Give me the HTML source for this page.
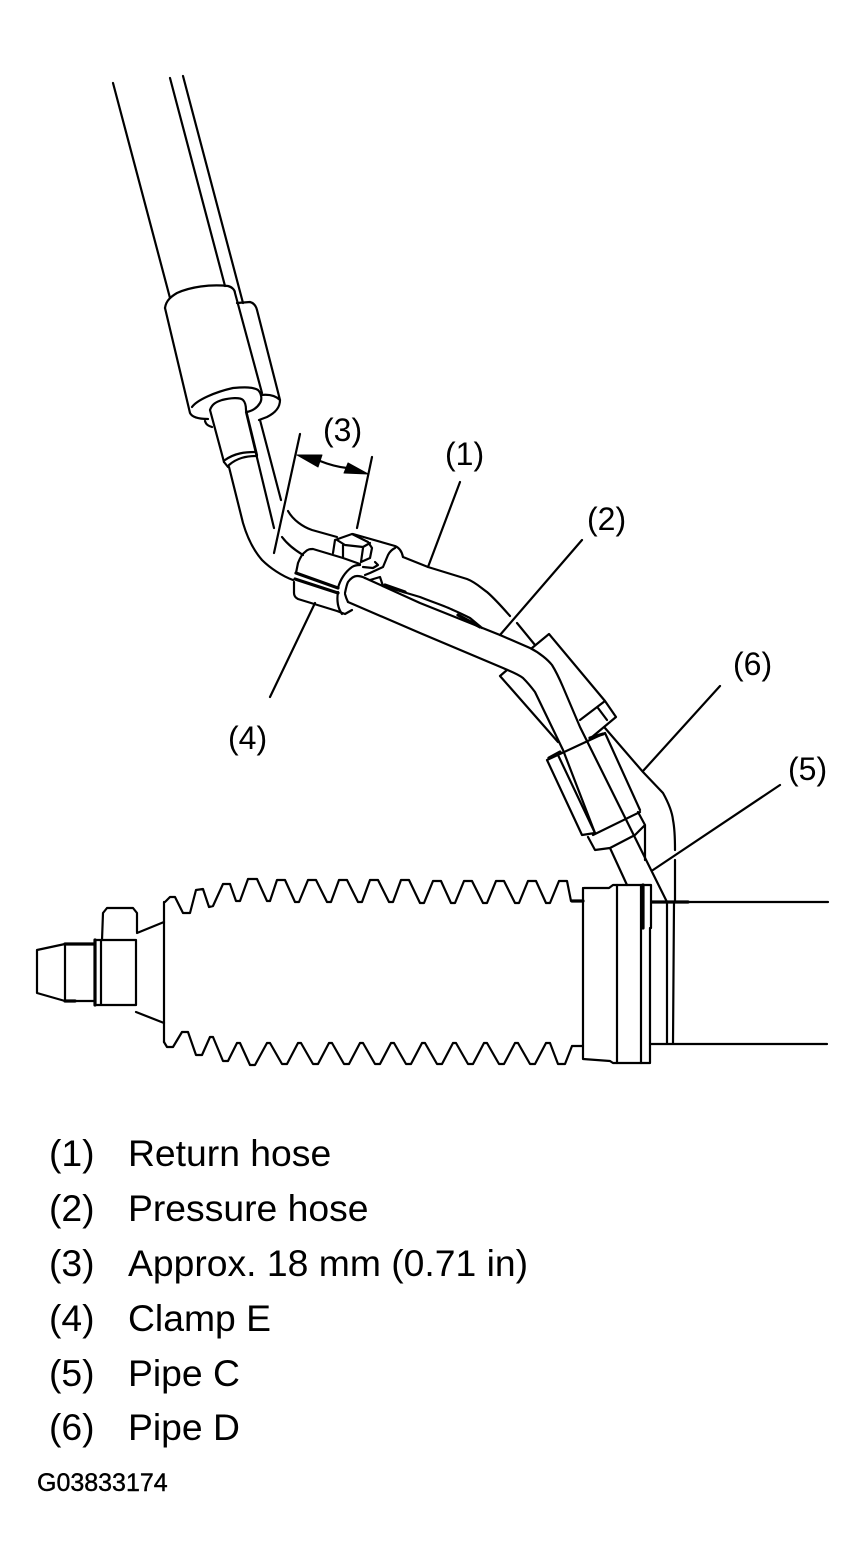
<!DOCTYPE html>
<html><head><meta charset="utf-8"><style>
html,body{margin:0;padding:0;background:#fff}
svg{display:block}
text{font-family:"Liberation Sans",sans-serif;fill:#000}
.l{font-size:37.3px}.c{font-size:32px}
path,line,polyline{fill:none;stroke:#000;stroke-width:2.2;stroke-linejoin:round;stroke-linecap:round}
polygon{stroke:#000;stroke-width:1;stroke-linejoin:round}
.t{stroke-width:3.2}
</style></head><body>
<svg width="866" height="1567" viewBox="0 0 866 1567" xmlns="http://www.w3.org/2000/svg">
<!-- top hoses -->
<path d="M113 83L170 298M170 78L225 286M183 76L243 303"/>
<path d="M165 308C166 300 172 296 177 293C190 287 210 284 228 286C232 287 235 290 235 293L262 393"/>
<path d="M165 308L190 413C192 417 198 419 208 419M192 407C197 400 215 392 233 388C245 387 253 387 258 390C262 394 262 400 260 403C257 408 252 411 247 412"/>
<path d="M237 303L250 302C254 303 256 306 257 310L280 400C280 408 275 413 267 417L259 420M261 395C270 394 276 396 280 400"/>
<path d="M205 421C206 425 209 426 212 427M210 410C212 404 216 402 222 400C230 398 240 397 243 400C245 402 246 406 246 410L257 455M210 410L224 462"/>
<path d="M225 460C235 453 245 452 256 452M229 465C237 458 246 456 257 456M224 462L228 467"/>
<path d="M229 467L243 523C248 540 255 552 262 560C270 568 282 576 293 580"/>
<path d="M246 412L274 528M260 420L281 500"/>
<!-- dimension 3 -->
<path d="M300 434L274 553M372 457L357 528"/>
<path d="M320 461C330 465 338 467 347 468"/>
<polygon points="297,455 322,455 318,467"/>
<polygon points="368,474 348,463 344,473"/>
<path d="M288 511C293 520 303 527 312 530L337 537M282 537C288 545 295 550 303 555"/>
<!-- bolt -->
<path d="M335 540L352 534L368 542L372 548L370 558L361 562M335 540L333 553M343 545L343 557M363 548L361 562M337 540L345 545L363 547L370 543"/>
<path d="M353 534L395 546C400 548 402 552 403 557M395 548C391 550 389 553 388 555L383 567L370 573L365 575"/>
<path d="M375 562L378 565L373 568L363 567"/>
<path d="M370 580L380 577L383 586"/>
<!-- clamp -->
<path d="M296 573L298 563C300 558 302 554 305 552C308 549 310 549 313 549L343 558L360 564"/>
<path class="t" d="M296 573L338 588M295 579L338 593"/>
<path d="M294 582L294 593C294 596 296 598 298 599L337 611L345 614L352 610"/>
<path d="M338 592C337 598 337 607 342 614M338 588C340 580 345 572 352 567C355 565 358 565 360 565"/>
<path d="M345 593C346 588 347 584 348 582C351 578 354 576 357 576C360 576 363 577 365 578"/>
<path d="M345 594C346 598 347 600 348 602"/>
<!-- hoses -->
<path d="M365 578L420 603L500 635L530 648C540 653 548 660 552 665C557 673 560 680 563 687L580 727L667 902"/>
<path d="M348 602L420 633L503 668C512 672 518 674 523 678C528 683 532 688 535 692L563 750L595 833M610 848L627 885"/>
<path d="M403 557L428 567L467 579C475 582 480 587 487 592C495 599 503 608 510 616M517 623L535 645"/>
<path d="M383 586L420 597C435 603 445 606 453 610C460 613 466 616 470 618L482 628"/>
<path class="t" d="M385 585L405 592M458 615L480 627"/>
<!-- sleeves -->
<path d="M532 648L549 634L605 701L580 720M605 701L616 717L592 737M598 708L607 720"/>
<path d="M507 670L500 676L558 742"/>
<path d="M547 760L605 733L640 810M547 760L582 835L595 833M558 755L595 833M593 835L640 812M588 837L595 850L610 848L635 835L645 825L638 812M645 825L645 860"/>
<path class="t" d="M549 758L560 752M590 738L603 734"/>
<path d="M605 728L643 772L663 793C668 802 672 811 673 820C675 830 675 840 675 850M675 860L675 902"/>
<!-- leaders -->
<path d="M460 482L428 567M582 540L500 635M720 686L643 771M780 785L653 870M315 603L270 697"/>
<!-- boot -->
<path d="M37 950L65 944L65 1001L37 993Z"/>
<path class="t" d="M65 944L95 944M65 1001L75 1001M95 940L95 1005"/>
<path d="M75 1001L95 1001M95 940L136 940M95 1005L136 1005M136 940L136 1005M101 940L101 1005"/>
<path d="M102 940L103 913L107 908L133 908L137 913L137 932M137 933L164 922M136 1012L164 1023"/>
<path d="M164 902L164 1042"/>
<path d="M165 902L170 897L175 897L183 913L190 913L196 890L203 889L209 907L213 906L223 884L230 884L236 901L240 901L248 879L257 879L267 901L270 901L277 880L285 880L295 902L299 902L308 880L316 880L327 902L331 902L339 880L347 880L358 902L362 902L370 880L378 880L389 902L393 902L401 880L409 880L420 903L424 903L433 881L441 881L451 903L455 903L464 881L472 881L483 903L487 903L496 881L504 881L515 903L519 903L528 881L536 881L546 903L550 903L559 881L567 881L571 901L582 901"/>
<path class="t" d="M572 901L583 901"/>
<path d="M164 1042L167 1047L173 1047L182 1032L188 1032L196 1055L202 1055L210 1037L213 1037L223 1061L228 1061L237 1043L240 1043L250 1065L255 1065L267 1043L270 1043L282 1064L287 1064L298 1043L301 1043L313 1064L318 1064L329 1043L332 1043L344 1064L349 1064L360 1043L363 1043L375 1064L380 1064L391 1043L394 1043L406 1064L411 1064L422 1043L425 1043L437 1064L442 1064L453 1043L456 1043L468 1064L473 1064L484 1043L487 1043L499 1064L504 1064L515 1043L518 1043L530 1064L535 1064L546 1043L550 1043L558 1064L565 1064L572 1046L583 1046"/>
<!-- collar -->
<path d="M584 888L609 888L613 885L651 885L651 928L650 928L650 1063L613 1063L610 1061L583 1059L583 888"/>
<path d="M617 885L617 1063M641 885L641 1063"/>
<path class="t" d="M643 885L643 928M652 902L688 902"/>
<path d="M688 902L828 902M650 1044L827 1044M667 902L667 1044M674 902L673 1044"/>
<!-- callouts -->
<text class="c" x="323" y="441">(3)</text>
<text class="c" x="445" y="465">(1)</text>
<text class="c" x="587" y="530">(2)</text>
<text class="c" x="733" y="675">(6)</text>
<text class="c" x="788" y="780">(5)</text>
<text class="c" x="228" y="749">(4)</text>
<!-- legend -->
<text class="l" x="49" y="1166">(1)</text><text class="l" x="128" y="1166">Return hose</text>
<text class="l" x="49" y="1221">(2)</text><text class="l" x="128" y="1221">Pressure hose</text>
<text class="l" x="49" y="1276">(3)</text><text class="l" x="128" y="1276">Approx. 18 mm (0.71 in)</text>
<text class="l" x="49" y="1331">(4)</text><text class="l" x="128" y="1331">Clamp E</text>
<text class="l" x="49" y="1386">(5)</text><text class="l" x="128" y="1386">Pipe C</text>
<text class="l" x="49" y="1440">(6)</text><text class="l" x="128" y="1440">Pipe D</text>
<text x="37" y="1491" style="font-size:25px;stroke:#000;stroke-width:.4">G03833174</text>
</svg>
</body></html>
